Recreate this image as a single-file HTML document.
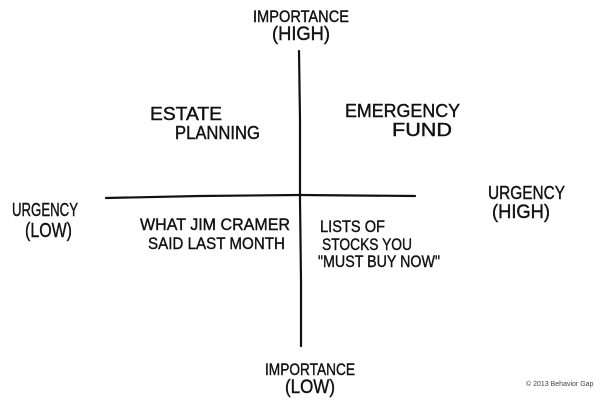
<!DOCTYPE html>
<html><head><style>html,body{margin:0;padding:0;background:#fff}svg{display:block}</style></head>
<body>
<svg width="600" height="400" viewBox="0 0 600 400" xmlns="http://www.w3.org/2000/svg">
<rect width="600" height="400" fill="#fff"/>
<g stroke="#111" stroke-width="2.2" fill="none" stroke-linecap="round">
<path d="M299 51 L300 120 L300 200 L301 280 L301 346"/>
<path d="M106 198 L200 196 L300 195 L415 196"/>
</g>
<g font-family="Liberation Sans, sans-serif" font-size="18" fill="#111" stroke="#111" stroke-width="0.4">
<text x="253" y="22" font-size="17" textLength="96" lengthAdjust="spacingAndGlyphs">IMPORTANCE</text>
<text x="272" y="40" font-size="19" textLength="58" lengthAdjust="spacingAndGlyphs">(HIGH)</text>
<text x="150" y="120" textLength="72" lengthAdjust="spacingAndGlyphs">ESTATE</text>
<text x="175" y="139" textLength="85" lengthAdjust="spacingAndGlyphs">PLANNING</text>
<text x="345" y="117" textLength="115" lengthAdjust="spacingAndGlyphs">EMERGENCY</text>
<text x="392" y="136" textLength="60" lengthAdjust="spacingAndGlyphs">FUND</text>
<text x="12" y="216" textLength="66" lengthAdjust="spacingAndGlyphs">URGENCY</text>
<text x="25" y="237" font-size="20" textLength="47" lengthAdjust="spacingAndGlyphs">(LOW)</text>
<text x="488" y="199" textLength="77" lengthAdjust="spacingAndGlyphs">URGENCY</text>
<text x="492" y="218" font-size="19" textLength="58" lengthAdjust="spacingAndGlyphs">(HIGH)</text>
<text x="140" y="230" font-size="17" textLength="150" lengthAdjust="spacingAndGlyphs">WHAT JIM CRAMER</text>
<text x="148" y="249" font-size="17" textLength="137" lengthAdjust="spacingAndGlyphs">SAID LAST MONTH</text>
<text x="320" y="232" font-size="17" textLength="65" lengthAdjust="spacingAndGlyphs">LISTS OF</text>
<text x="322" y="250" font-size="17" textLength="90" lengthAdjust="spacingAndGlyphs">STOCKS YOU</text>
<text x="318" y="267" font-size="17" textLength="122" lengthAdjust="spacingAndGlyphs">"MUST BUY NOW"</text>
<text x="265" y="375" font-size="17" textLength="90" lengthAdjust="spacingAndGlyphs">IMPORTANCE</text>
<text x="285" y="393" font-size="19" textLength="50" lengthAdjust="spacingAndGlyphs">(LOW)</text>
<text x="526" y="386" font-size="7" fill="#444" stroke="none">© 2013 Behavior Gap</text>
</g>
</svg>
</body></html>
